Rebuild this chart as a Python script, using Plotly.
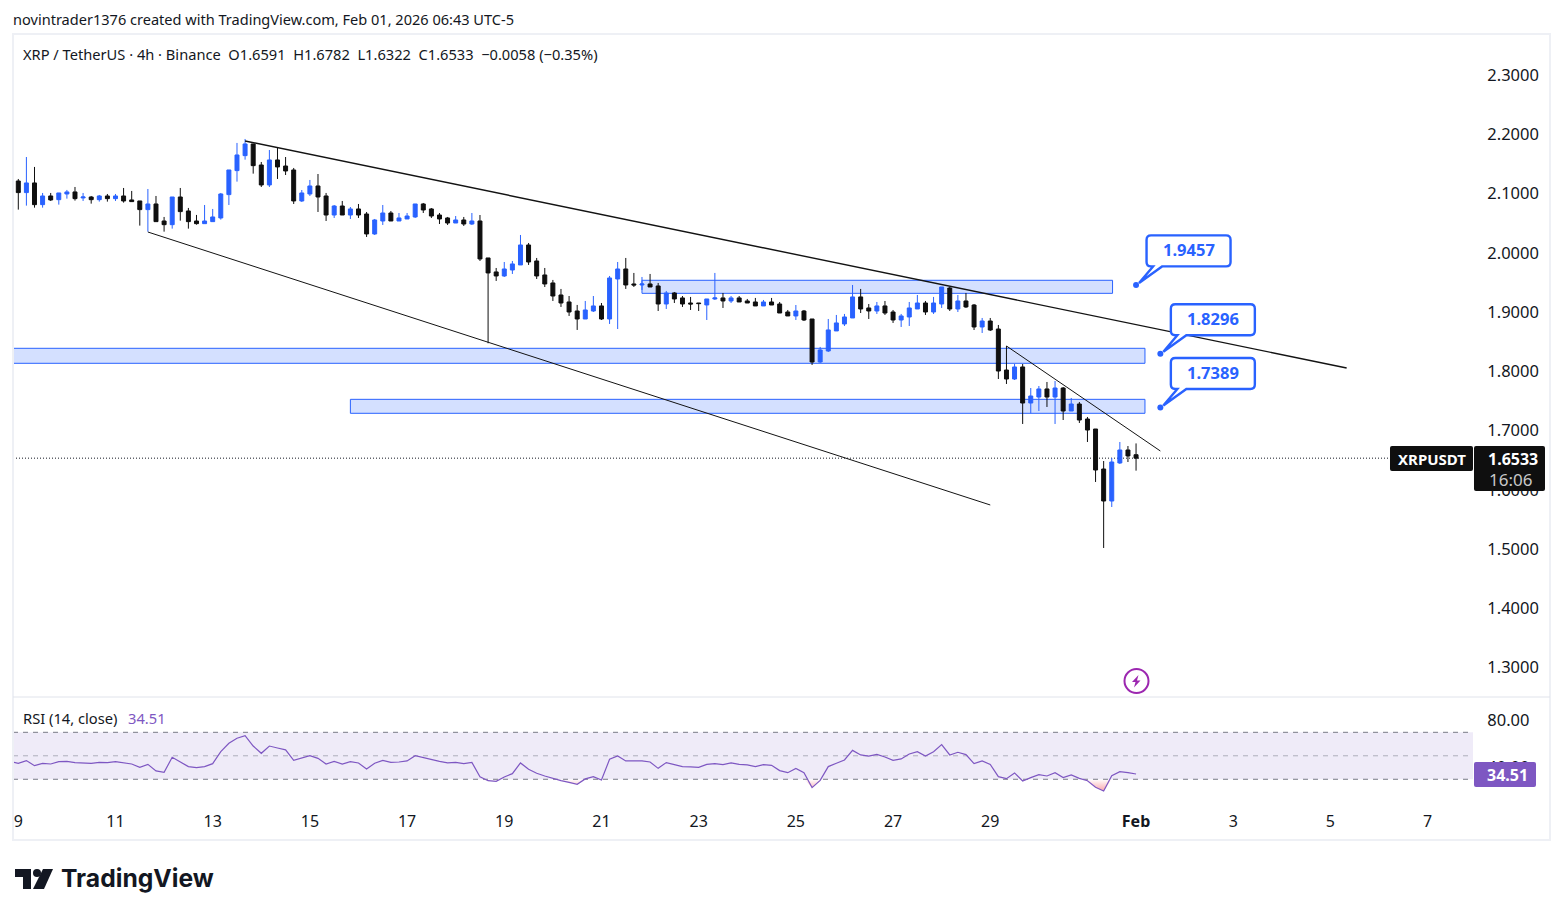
import pandas as pd
import plotly.graph_objects as go

W, H = 1563, 916
FONT = "Noto Sans"
INK = "#131722"
BLUE = "#2962ff"
DARK = "#0f0f0f"
PURPLE = "#7e57c2"

# XRP/USDT 4h candles starting 2026-01-09 00:00
opens = [
    2.1211,2.1015,2.1178,2.0812,2.0958,2.0896,2.0992,2.1026,2.0925,2.0941,
    2.0896,2.0958,2.0913,2.0958,2.0891,2.0874,2.0728,2.0823,2.0536,2.0474,
    2.0941,2.0705,2.0536,2.0491,2.0525,2.0587,2.0981,2.1386,2.1639,2.1836,
    2.1481,2.1144,2.1566,2.1464,2.1397,2.0874,2.0992,2.1127,2.0958,2.0637,
    2.0789,2.0637,2.0739,2.0654,2.0317,2.0536,2.0671,2.0536,2.0570,2.0604,
    2.0823,2.0739,2.0637,2.0587,2.0502,2.0553,2.0485,2.0536,1.9912,1.9676,
    1.9608,1.9709,1.9794,2.0131,1.9861,1.9625,1.9490,1.9287,1.9169,1.9017,
    1.8882,1.9017,1.9102,1.8882,1.9557,1.9726,1.9473,1.9456,1.9473,1.9439,
    1.9135,1.9321,1.9237,1.9152,1.9152,1.9119,1.9220,1.9237,1.9186,1.9237,
    1.9186,1.9169,1.9102,1.9169,1.9135,1.9000,1.8933,1.9017,1.8882,1.8156,
    1.8342,1.8680,1.8798,1.8899,1.9254,1.9068,1.9017,1.9102,1.9000,1.8865,
    1.8916,1.9051,1.9152,1.9000,1.9135,1.9405,1.9051,1.9186,1.9118,1.8747,
    1.8848,1.8713,1.8021,1.7869,1.8072,1.7464,1.7565,1.7701,1.7565,1.7717,
    1.7329,1.7447,1.7194,1.7025,1.6350,1.5810,1.6452,1.6671,1.6591,
]
highs = [
    2.1245,2.1616,2.1448,2.1009,2.1009,2.1009,2.1060,2.1110,2.1009,2.0958,
    2.0975,2.0992,2.0992,2.1093,2.1043,2.0874,2.1076,2.0958,2.0604,2.0941,
    2.1093,2.0756,2.0638,2.0806,2.0739,2.1009,2.1397,2.1853,2.1920,2.1836,
    2.1532,2.1734,2.1768,2.1616,2.1431,2.1059,2.1228,2.1329,2.1009,2.0806,
    2.0874,2.0772,2.0823,2.0688,2.0570,2.0806,2.0705,2.0671,2.0671,2.0823,
    2.0840,2.0755,2.0671,2.0604,2.0620,2.0604,2.0671,2.0637,1.9912,1.9743,
    1.9844,1.9861,2.0300,2.0165,1.9912,1.9743,1.9541,1.9389,1.9270,1.9119,
    1.9186,1.9270,1.9152,1.9608,1.9844,1.9912,1.9659,1.9591,1.9642,1.9490,
    1.9355,1.9338,1.9270,1.9254,1.9152,1.9220,1.9659,1.9321,1.9270,1.9270,
    1.9220,1.9237,1.9203,1.9237,1.9169,1.9034,1.9118,1.9034,1.8882,1.8410,
    1.8882,1.8950,1.8967,1.9456,1.9389,1.9135,1.9169,1.9186,1.9034,1.8967,
    1.9169,1.9287,1.9186,1.9254,1.9422,1.9422,1.9287,1.9321,1.9135,1.8899,
    1.8899,1.8781,1.8426,1.8122,1.8122,1.7717,1.7751,1.7819,1.7836,1.7734,
    1.7549,1.7481,1.7228,1.7025,1.6485,1.6536,1.6806,1.6738,1.6782,
]
lows = [
    2.0728,2.0795,2.0761,2.0761,2.0874,2.0812,2.0913,2.0880,2.0874,2.0829,
    2.0863,2.0863,2.0874,2.0846,2.0863,2.0458,2.0356,2.0525,2.0356,2.0407,
    2.0542,2.0407,2.0474,2.0491,2.0525,2.0559,2.0806,2.1200,2.1571,2.1335,
    2.1110,2.1110,2.1245,2.1312,2.0823,2.0857,2.0958,2.0688,2.0536,2.0587,
    2.0637,2.0570,2.0587,2.0266,2.0300,2.0469,2.0536,2.0536,2.0570,2.0587,
    2.0671,2.0587,2.0485,2.0469,2.0502,2.0452,2.0469,1.9861,1.8472,1.9524,
    1.9591,1.9642,1.9794,1.9794,1.9557,1.9422,1.9186,1.9085,1.8933,1.8697,
    1.8882,1.9000,1.8865,1.8798,1.8713,1.9389,1.9422,1.9372,1.9422,1.9017,
    1.9051,1.9152,1.9085,1.9034,1.9017,1.8865,1.9203,1.9068,1.9152,1.9169,
    1.9152,1.9102,1.9102,1.9118,1.8983,1.8933,1.8865,1.8848,1.8106,1.8140,
    1.8325,1.8680,1.8764,1.8899,1.8983,1.8882,1.8967,1.8950,1.8815,1.8747,
    1.8764,1.9051,1.8950,1.8967,1.9068,1.9017,1.9000,1.9068,1.8696,1.8646,
    1.8679,1.7869,1.7785,1.7852,1.7110,1.7290,1.7329,1.7397,1.7110,1.7177,
    1.7329,1.7127,1.6806,1.6131,1.5017,1.5709,1.6435,1.6468,1.6322,
]
closes = [
    2.1015,2.1178,2.0812,2.0958,2.0891,2.1009,2.1026,2.0913,2.0941,2.0896,
    2.0958,2.0913,2.0958,2.0874,2.0863,2.0728,2.0823,2.0525,2.0474,2.0941,
    2.0694,2.0525,2.0491,2.0536,2.0604,2.0992,2.1397,2.1650,2.1836,2.1470,
    2.1144,2.1566,2.1448,2.1380,2.0874,2.1009,2.1127,2.0941,2.0637,2.0789,
    2.0637,2.0739,2.0637,2.0317,2.0553,2.0671,2.0536,2.0587,2.0620,2.0823,
    2.0722,2.0620,2.0570,2.0502,2.0553,2.0485,2.0536,1.9895,1.9659,1.9608,
    1.9726,1.9811,2.0131,1.9844,1.9608,1.9473,1.9270,1.9152,1.9000,1.8882,
    1.9034,1.9102,1.8882,1.9574,1.9726,1.9456,1.9456,1.9473,1.9422,1.9135,
    1.9321,1.9220,1.9135,1.9135,1.9142,1.9220,1.9237,1.9186,1.9237,1.9169,
    1.9152,1.9102,1.9169,1.9118,1.8983,1.8933,1.9017,1.8865,1.8156,1.8359,
    1.8697,1.8815,1.8916,1.9254,1.9051,1.9017,1.9102,1.8983,1.8865,1.8933,
    1.9068,1.9152,1.9000,1.9152,1.9422,1.9051,1.9186,1.9085,1.8747,1.8848,
    1.8696,1.8004,1.7869,1.8072,1.7464,1.7582,1.7701,1.7565,1.7717,1.7329,
    1.7447,1.7177,1.7008,1.6333,1.5810,1.6468,1.6671,1.6570,1.6533,
]
# RSI for each candle; the value before the first candle keeps the line running to the pane edge
rsi_before_first = 45.1
rsi = [
    43.6,45.9,41.6,43.6,43.0,45.0,45.3,44.2,44.2,43.6,
    44.4,44.2,45.0,43.9,43.0,40.2,42.7,37.1,35.9,48.7,
    44.4,40.8,39.9,40.8,43.3,53.5,60.6,64.9,67.1,58.3,
    52.1,58.3,56.6,55.0,46.1,48.1,50.1,47.8,43.0,45.3,
    43.0,45.0,43.9,38.8,43.6,46.1,44.4,44.7,45.6,50.1,
    48.4,46.4,45.3,43.9,44.4,43.3,44.4,32.2,28.8,28.3,
    32.0,34.8,43.9,38.5,35.1,32.8,30.5,28.8,27.4,25.7,
    30.3,32.2,29.4,47.0,49.8,45.6,45.6,45.6,44.7,39.3,
    44.2,42.5,40.8,40.5,40.2,42.7,43.3,42.5,43.9,42.7,
    42.2,40.8,42.5,41.9,37.4,35.6,39.3,35.6,22.9,29.1,
    40.8,43.6,46.4,54.6,50.7,49.8,51.2,49.0,46.1,47.3,
    51.5,53.5,49.8,53.5,59.5,50.7,53.0,51.0,43.3,45.6,
    42.7,32.2,30.5,35.4,28.5,31.4,33.9,32.8,35.6,31.4,
    33.7,30.8,28.8,23.2,20.0,33.1,36.5,35.6,34.51,
]
assert len(opens) == len(highs) == len(lows) == len(closes) == len(rsi) == 139

last_price = 1.6533
last_rsi = 34.51

# Horizontal zones: left bar, right bar, top price, bottom price
zones = [
    (77, 135.1, 1.9535, 1.9315),
    (None, 139.1, 1.8387, 1.8134),
    (41, 139.1, 1.7526, 1.7290),
]
# Trend lines: start bar, start price, end bar, end price, width
trendlines = [
    (28, 2.1886, 164, 1.8055, 1.4),
    (16, 2.0350, 120, 1.5743, 1.0),
    (122, 1.8426, 141, 1.6654, 1.0),
]
# Price callouts
callout_bars = [138, 141, 141]
callout_prices = [1.9457, 1.8296, 1.7389]

price_ticks = [2.3, 2.2, 2.1, 2.0, 1.9, 1.8, 1.7, 1.6, 1.5, 1.4, 1.3]
rsi_ticks = [80, 40]
date_ticks = ["2026-01-09","2026-01-11","2026-01-13","2026-01-15","2026-01-17","2026-01-19",
              "2026-01-21","2026-01-23","2026-01-25","2026-01-27","2026-01-29","2026-02-01",
              "2026-02-03","2026-02-05","2026-02-07"]
date_labels = ["9","11","13","15","17","19","21","23","25","27","29","<b>Feb</b>","3","5","7"]

BASE = pd.Timestamp("2026-01-09")
def bar_time(i):
    return (BASE + pd.Timedelta(hours=4 * i)).isoformat()

times = [bar_time(i) for i in range(len(opens))]
rsi_times = [bar_time(-1)] + times
rsi_line = [rsi_before_first] + rsi
X_START, X_END = bar_time(-0.654), bar_time(179.6)

def px(x):
    return x / W
def py(y):
    return 1 - y / H

def rounded_rect(x0, y0, x1, y1, r):
    # Rounded rectangle in page pixels, expressed in paper fractions
    pts = [("M", x0 + r, y0), ("L", x1 - r, y0), ("Q", x1, y0, x1, y0 + r), ("L", x1, y1 - r),
           ("Q", x1, y1, x1 - r, y1), ("L", x0 + r, y1), ("Q", x0, y1, x0, y1 - r),
           ("L", x0, y0 + r), ("Q", x0, y0, x0 + r, y0)]
    out = []
    for p in pts:
        c = p[0]
        vals = p[1:]
        coords = [f"{px(vals[k]):.6f},{py(vals[k + 1]):.6f}" for k in range(0, len(vals), 2)]
        out.append(c + " ".join(coords))
    return " ".join(out) + " Z"

def poly(points):
    return "M" + " L".join(f"{px(x):.6f},{py(y):.6f}" for x, y in points) + " Z"

def text(x, y, s, size=14, color=INK, anchor="left", weight=None, family=FONT):
    label = f"<b>{s}</b>" if weight else s
    return dict(x=px(x), y=py(y), xref="paper", yref="paper", text=label, showarrow=False,
                xanchor=anchor, yanchor="middle", align=anchor, borderpad=0,
                font=dict(family=family, size=size, color=color))

fig = go.Figure()

fig.add_trace(go.Candlestick(
    x=times, open=opens, high=highs, low=lows, close=closes, whiskerwidth=0,
    increasing=dict(line=dict(color=BLUE, width=1), fillcolor=BLUE),
    decreasing=dict(line=dict(color=DARK, width=1), fillcolor=DARK),
    showlegend=False, xaxis="x", yaxis="y",
))
fig.add_trace(go.Scatter(
    x=[bar_time(b) for b in callout_bars], y=callout_prices, mode="markers",
    marker=dict(color=BLUE, size=6), showlegend=False, xaxis="x", yaxis="y",
))

# Pink fade where RSI sits under the oversold band
fig.add_trace(go.Scatter(x=rsi_times, y=[30] * len(rsi_line), mode="lines", line=dict(width=0),
                         showlegend=False, xaxis="x", yaxis="y2"))
fig.add_trace(go.Scatter(x=rsi_times, y=[min(v, 30) for v in rsi_line], mode="lines", line=dict(width=0),
                         fill="tonexty",
                         fillgradient=dict(type="vertical", start=20, stop=30,
                                           colorscale=[[0, "rgba(242,54,69,0.45)"], [1, "rgba(242,54,69,0)"]]),
                         showlegend=False, xaxis="x", yaxis="y2"))
fig.add_trace(go.Scatter(x=rsi_times, y=rsi_line, mode="lines", line=dict(color=PURPLE, width=1.2),
                         showlegend=False, xaxis="x", yaxis="y2"))

shapes = []

# Supply and demand zones
for left, right, top, bottom in zones:
    shapes.append(dict(type="rect", xref="x", yref="y", layer="below",
                       x0=X_START if left is None else bar_time(left), x1=bar_time(right),
                       y0=bottom, y1=top, fillcolor="rgba(41,98,255,0.2)",
                       line=dict(color=BLUE, width=1)))

# Trend lines
for b0, p0, b1, p1, w in trendlines:
    shapes.append(dict(type="line", xref="x", yref="y", layer="above",
                       x0=bar_time(b0), y0=p0, x1=bar_time(b1), y1=p1,
                       line=dict(color="#131313", width=w)))

# Last price line
shapes.append(dict(type="line", xref="x domain", yref="y", layer="below", x0=0, x1=1,
                   y0=last_price, y1=last_price, line=dict(color="#131722", width=1, dash="1px,2px")))

# RSI band and its guide lines
shapes.append(dict(type="rect", xref="x domain", yref="y2", layer="below", x0=0, x1=1, y0=30, y1=70,
                   fillcolor="rgba(126,87,194,0.12)", line=dict(width=0)))
for level, col in [(70, "#787b86"), (30, "#787b86"), (50, "rgba(120,123,134,0.55)")]:
    shapes.append(dict(type="line", xref="x domain", yref="y2", layer="below", x0=0, x1=1,
                       y0=level, y1=level, line=dict(color=col, width=1, dash="5px,5px")))

# Callout balloons, drawn relative to their anchor point
CALLOUT = ("M 17,18.5 L 3,2 L 26,18.5 L 90,18.5 Q 94.5,18.5 94.5,23 L 94.5,45 Q 94.5,49.5 90,49.5 "
           "L 15,49.5 Q 10.5,49.5 10.5,45 L 10.5,23 Q 10.5,18.5 15,18.5 Z")
for b, p in zip(callout_bars, callout_prices):
    shapes.append(dict(type="path", xref="x", yref="y", xsizemode="pixel", ysizemode="pixel",
                       xanchor=bar_time(b), yanchor=p, path=CALLOUT, layer="above",
                       fillcolor="white", line=dict(color=BLUE, width=2.4)))

# Frame and pane separator
FRAME = "#eef0f5"
shapes.append(dict(type="rect", xref="paper", yref="paper", layer="above", x0=px(13), x1=px(1550),
                   y0=py(840), y1=py(34), line=dict(color=FRAME, width=2), fillcolor="rgba(0,0,0,0)"))
shapes.append(dict(type="line", xref="paper", yref="paper", layer="above", x0=px(13), x1=px(1550),
                   y0=py(697), y1=py(697), line=dict(color="#e0e3eb", width=1)))

# Axis tags
shapes.append(dict(type="path", xref="paper", yref="paper", layer="above",
                   path=rounded_rect(1390, 446, 1473, 471, 2), fillcolor=DARK, line=dict(width=0)))
shapes.append(dict(type="path", xref="paper", yref="paper", layer="above",
                   path=rounded_rect(1474, 446, 1545, 491, 2), fillcolor=DARK, line=dict(width=0)))
shapes.append(dict(type="path", xref="paper", yref="paper", layer="above",
                   path=rounded_rect(1474, 762, 1536, 787, 2), fillcolor=PURPLE, line=dict(width=0)))

# Lightning badge
shapes.append(dict(type="circle", xref="paper", yref="paper", layer="above",
                   x0=px(1124.5), x1=px(1148.5), y0=py(693), y1=py(669),
                   fillcolor="white", line=dict(color="#9c27b0", width=2)))
shapes.append(dict(type="path", xref="paper", yref="paper", layer="above",
                   path=poly([(1138.5, 675), (1132, 682), (1135.5, 682), (1134, 687.5), (1140.5, 680.5), (1137, 680.5)]),
                   fillcolor="#9c27b0", line=dict(width=0)))

# Brand mark
shapes.append(dict(type="path", xref="paper", yref="paper", layer="above",
                   path=poly([(15, 869), (31, 869), (31, 889), (23, 889), (23, 877), (15, 877)]),
                   fillcolor=INK, line=dict(width=0)))
shapes.append(dict(type="circle", xref="paper", yref="paper", layer="above",
                   x0=px(33), x1=px(41), y0=py(877), y1=py(869), fillcolor=INK, line=dict(width=0)))
shapes.append(dict(type="path", xref="paper", yref="paper", layer="above",
                   path=poly([(43, 869), (53, 869), (44, 889), (33, 889)]),
                   fillcolor=INK, line=dict(width=0)))

annotations = [
    text(12, 19, "novintrader1376 created with TradingView.com, Feb 01, 2026 06:43 UTC-5", size=14.55),
    text(22, 54, "XRP / TetherUS · 4h · Binance &nbsp;O1.6591 &nbsp;H1.6782 &nbsp;L1.6322 &nbsp;C1.6533 &nbsp;−0.0058 (−0.35%)", size=14.65),
    text(22, 718, "RSI (14, close)", size=14.7),
    text(127, 718, f"{last_rsi:.2f}", size=14.7, color=PURPLE),
    text(1431.5, 459, "XRPUSDT", size=15, color="white", anchor="center", weight=True),
    text(1512.5, 459, f"{last_price:.4f}", size=16, color="white", anchor="center", weight=True),
    text(1510, 479, "16:06", size=17, color="#c8c8c8", anchor="center"),
    text(1507, 774.5, f"{last_rsi:.2f}", size=16, color="white", anchor="center", weight=True),
    text(60, 878, "TradingView", size=24.7, color=INK, weight=True, family="Inter"),
]
for b, p in zip(callout_bars, callout_prices):
    annotations.append(dict(x=bar_time(b), y=p, xref="x", yref="y", text=f"<b>{p:.4f}</b>", showarrow=False,
                            xshift=52.5, yshift=35, xanchor="center", yanchor="middle",
                            font=dict(family=FONT, size=16.5, color=BLUE)))

fig.update_layout(
    width=W, height=H, margin=dict(l=0, r=0, t=0, b=0), autosize=False,
    paper_bgcolor="white", plot_bgcolor="white", showlegend=False, hovermode=False,
    font=dict(family=FONT, color=INK, size=16),
    shapes=shapes, annotations=annotations,
    xaxis=dict(
        domain=[px(13), px(1473)], range=[X_START, X_END], type="date", anchor="y2",
        rangeslider=dict(visible=False), showgrid=False, zeroline=False, showline=False,
        tickmode="array", tickvals=date_ticks, ticktext=date_labels, ticks="outside", ticklen=4,
        tickcolor="rgba(0,0,0,0)", tickfont=dict(family=FONT, size=16, color=INK),
    ),
    yaxis=dict(
        domain=[py(697), py(35)], range=[1.2502, 2.3675], side="right", anchor="x",
        showgrid=False, zeroline=False, showline=False, tickmode="array", tickvals=price_ticks,
        ticktext=[f"{v:.4f}" for v in price_ticks], ticks="outside", ticklen=10,
        tickcolor="rgba(0,0,0,0)", tickfont=dict(family=FONT, size=16.5, color=INK),
    ),
    yaxis2=dict(
        domain=[py(803), py(698)], range=[9.8, 99.2], side="right", anchor="x",
        showgrid=False, zeroline=False, showline=False, tickmode="array", tickvals=rsi_ticks,
        ticktext=[f"{v:.2f}" for v in rsi_ticks], ticks="outside", ticklen=10,
        tickcolor="rgba(0,0,0,0)", tickfont=dict(family=FONT, size=16.5, color=INK),
    ),
)

fig.write_html("out.html")
